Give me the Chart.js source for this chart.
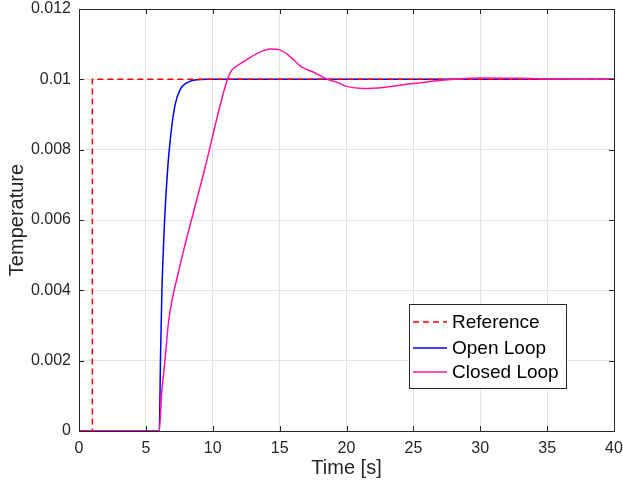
<!DOCTYPE html>
<html>
<head>
<meta charset="utf-8">
<script src="https://cdn.jsdelivr.net/npm/chart.js@4"></script>
<style>
  html, body { margin: 0; padding: 0; background: #fff; }
  #wrap { width: 623px; height: 485px; }
</style>
</head>
<body>
<div id="wrap"><canvas id="chart" width="623" height="485"></canvas></div>
<script>
// ============================================================
// Step response — Reference / Open Loop / Closed Loop
// ============================================================
const xTicks = [0, 5, 10, 15, 20, 25, 30, 35, 40];
const yTicks = [0, 0.002, 0.004, 0.006, 0.008, 0.01, 0.012];

const refT   = [0, 1, 1, 40];
const refY   = [0, 0, 0.01, 0.01];

const openT  = [0, 6, 6.1, 6.2, 6.3, 6.4, 6.5, 6.6, 6.75, 6.95, 7.2, 7.55, 8.05, 8.8, 9.5, 40];
const openY  = [0, 0, 0.0022, 0.0040, 0.0051, 0.0060, 0.0067, 0.0073, 0.0080, 0.0087, 0.0093, 0.0097, 0.0099, 0.00999, 0.01, 0.01];

const closedT = [0, 6, 6.18, 6.43, 6.68, 7.0, 7.3, 7.8, 9.3, 11.1, 11.42, 11.8, 12.3, 13.3, 14.3, 15.05, 15.8, 16.6, 17.5, 18.6, 19.4, 20, 21.25, 22.75, 25, 27, 30, 32.7, 35, 40];
const closedY = [0, 0, 0.00106, 0.00201, 0.00305, 0.0038, 0.0043, 0.0051, 0.0073, 0.01, 0.01026, 0.01038, 0.0105, 0.01073, 0.01086, 0.01083, 0.01064, 0.01036, 0.01021, 0.01, 0.0099, 0.0098, 0.00974, 0.00977, 0.00988, 0.00997, 0.01004, 0.01003, 0.01001, 0.01];

const seriesNames = ['Reference', 'Open Loop', 'Closed Loop'];

const TXT = '#262626';
const AXIS = '#262626';
const FONT = '"Liberation Sans", Arial, Helvetica, sans-serif';

const pts = (xs, ys) => xs.map((x, i) => ({ x, y: ys[i] }));

// Box, inward ticks and legend (MATLAB look)
const matlabAxes = {
  id: 'matlabAxes',
  afterDraw(chart) {
    const { ctx, chartArea: a, scales: { x, y } } = chart;
    ctx.save();
    ctx.strokeStyle = AXIS;
    ctx.lineWidth = 1;
    ctx.beginPath();
    xTicks.forEach(v => {
      const px = Math.round(x.getPixelForValue(v)) + 0.5;
      ctx.moveTo(px, a.bottom); ctx.lineTo(px, a.bottom - 5);
      ctx.moveTo(px, a.top);    ctx.lineTo(px, a.top + 5);
    });
    yTicks.forEach(v => {
      const py = Math.round(y.getPixelForValue(v)) + 0.5;
      ctx.moveTo(a.left, py);  ctx.lineTo(a.left + 5, py);
      ctx.moveTo(a.right, py); ctx.lineTo(a.right - 5, py);
    });
    ctx.stroke();
    ctx.strokeRect(Math.round(a.left) + 0.5, Math.round(a.top) + 0.5,
                   Math.round(a.right - a.left), Math.round(a.bottom - a.top));

    // legend
    const lx = 409.5, ly = 304.5, lw = 157, lh = 84;
    ctx.fillStyle = '#fff';
    ctx.fillRect(lx, ly, lw, lh);
    ctx.strokeStyle = '#262626';
    ctx.strokeRect(lx, ly, lw, lh);
    ctx.font = '19px ' + FONT;
    ctx.textBaseline = 'middle';
    ctx.textAlign = 'left';
    const rows = [322, 348, 372];
    [0, 1, 2].forEach((di, i) => {
      const ds = chart.data.datasets[di];
      ctx.strokeStyle = ds.borderColor;
      ctx.lineWidth = 1.5;
      ctx.setLineDash(ds.borderDash || []);
      ctx.beginPath();
      ctx.moveTo(413, rows[i]); ctx.lineTo(447, rows[i]);
      ctx.stroke();
      ctx.setLineDash([]);
      ctx.fillStyle = '#000';
      ctx.fillText(ds.label, 452, rows[i] + 1);
    });
    ctx.restore();
  },
};

new Chart(document.getElementById('chart'), {
  type: 'line',
  data: {
    datasets: [
      { label: seriesNames[0], data: pts(refT, refY), borderColor: '#ff0000', borderDash: [6, 4],
        borderWidth: 1.5, tension: 0, order: 1 },
      { label: seriesNames[1], data: pts(openT, openY), borderColor: '#0000ff',
        borderWidth: 1.5, cubicInterpolationMode: 'monotone', order: 2 },
      { label: seriesNames[2], data: pts(closedT, closedY), borderColor: '#ff14a0',
        borderWidth: 1.5, cubicInterpolationMode: 'monotone', order: 0 },
    ],
  },
  options: {
    responsive: false, animation: false,
    layout: { padding: { left: 0, top: 9, right: 9, bottom: 0 } },
    elements: { point: { radius: 0 } },
    plugins: { legend: { display: false }, tooltip: { enabled: false } },
    scales: {
      x: {
        type: 'linear', min: 0, max: 40,
        afterBuildTicks: s => { s.ticks = xTicks.map(v => ({ value: v })); },
        afterFit: s => { s.height = 54; s.paddingLeft = 0; s.paddingRight = 0; },
        grid: { color: '#e3e3e3', drawTicks: false },
        border: { display: false },
        ticks: { color: TXT, font: { family: FONT, size: 16 }, padding: 8, maxRotation: 0 },
        title: { display: true, text: 'Time [s]', color: TXT, font: { family: FONT, size: 20 }, padding: { top: 0, bottom: 5 } },
      },
      y: {
        type: 'linear', min: 0, max: 0.012,
        afterBuildTicks: s => { s.ticks = yTicks.map(v => ({ value: v })); },
        afterFit: s => { s.width = 79; s.paddingTop = 0; s.paddingBottom = 0; },
        grid: { color: '#e3e3e3', drawTicks: false },
        border: { display: false },
        ticks: { color: TXT, font: { family: FONT, size: 16 }, padding: 8, callback: v => String(v) },
        title: { display: true, text: 'Temperature', color: TXT, font: { family: FONT, size: 20 }, padding: { top: 5, bottom: 0 } },
      },
    },
  },
  plugins: [matlabAxes],
});
</script>
</body>
</html>
